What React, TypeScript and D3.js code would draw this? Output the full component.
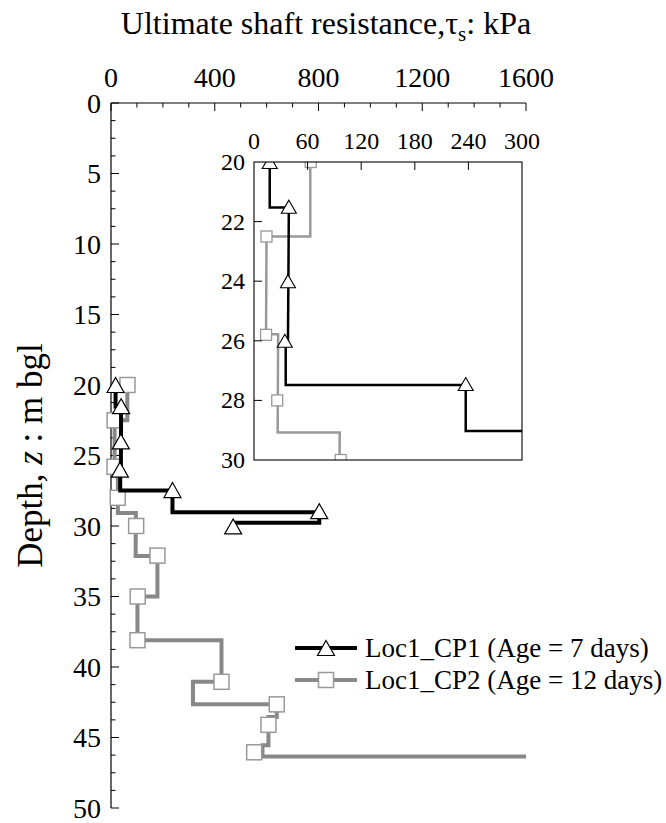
import React from 'react';
import * as d3 from 'd3';

// ---- data (kPa, depth m) ----
const xTicksMain = [0, 400, 800, 1200, 1600];
const yTicksMain = [0, 5, 10, 15, 20, 25, 30, 35, 40, 45, 50];
const xTicksInset = [0, 60, 120, 180, 240, 300];
const yTicksInset = [20, 22, 24, 26, 28, 30];

const cp1LineKpa = [17.6, 17.6, 39, 38.5, 38, 35.5, 35.5, 237, 237, 803, 803, 471];
const cp1LineDepth = [20, 21.53, 21.53, 24, 26, 26, 27.48, 27.48, 29.03, 29.03, 29.77, 29.77];
const cp1MarkKpa = [17.6, 39, 38, 34.5, 237, 803, 471];
const cp1MarkDepth = [20, 21.5, 24, 26, 27.45, 28.95, 30.03];

const cp2LineKpa = [63, 63, 14, 13.5, 27, 26.5, 96, 95, 179, 179, 102, 102, 426, 426, 316, 316, 639, 639, 607, 607, 584, 584, 1600];
const cp2LineDepth = [20, 22.5, 22.5, 25.78, 25.78, 29.08, 29.08, 32.13, 32.13, 35.0, 35.0, 38.1, 38.1, 41.05, 41.05, 42.64, 42.64, 43.55, 43.55, 45.55, 45.55, 46.35, 46.35];
const cp2MarkKpa = [63.5, 14, 13.5, 26, 97, 179, 103, 102, 426, 639, 607, 552];
const cp2MarkDepth = [20, 22.5, 25.8, 28, 30, 32.1, 35, 38.1, 41.05, 42.65, 44.1, 46.05];

const seriesNames = ['Loc1_CP1 (Age = 7 days)', 'Loc1_CP2 (Age = 12 days)'];

const FONT = "'Liberation Serif', 'Times New Roman', Times, serif";

function tri(cx: number, cy: number, w: number, h: number) {
  return `M${cx},${cy - h / 2}L${cx + w / 2},${cy + h / 2}L${cx - w / 2},${cy + h / 2}Z`;
}

export default function App() {
  const x = d3.scaleLinear().domain([0, 1600]).range([111, 526]);
  const y = d3.scaleLinear().domain([0, 50]).range([103, 808]);
  const xi = d3.scaleLinear().domain([0, 300]).range([254, 522]);
  const yi = d3.scaleLinear().domain([20, 30]).range([162, 460]);

  const cp1 = cp1LineKpa.map((v, i) => [v, cp1LineDepth[i]] as [number, number]);
  const cp2 = cp2LineKpa.map((v, i) => [v, cp2LineDepth[i]] as [number, number]);
  const m1 = cp1MarkKpa.map((v, i) => [v, cp1MarkDepth[i]] as [number, number]);
  const m2 = cp2MarkKpa.map((v, i) => [v, cp2MarkDepth[i]] as [number, number]);

  const lineMain = d3.line<[number, number]>().x(d => x(d[0])).y(d => y(d[1]));
  const lineIn = d3.line<[number, number]>().x(d => xi(d[0])).y(d => yi(d[1]));

  const minorX = d3.range(0, 1601, 100);
  const minorY = d3.range(0, 50.001, 1.25);
  const tf = { fontFamily: FONT };

  return (
    <svg width={666} height={823} style={{ position: 'absolute', left: 0, top: 0, background: '#fff', fontFamily: FONT }}>
      <defs>
        <clipPath id="insetClip">
          <rect x={xi(0)} y={yi(20)} width={xi(300) - xi(0)} height={yi(30) - yi(20)} />
        </clipPath>
      </defs>
      <rect x={0} y={0} width={666} height={823} fill="#fff" />

      {/* title */}
      <text x={326} y={34} fontSize={32} textAnchor="middle" fill="#000" style={tf}>
        Ultimate shaft resistance,τ<tspan fontSize={21} dy={7}>s</tspan><tspan dy={-7}>: kPa</tspan>
      </text>

      {/* y title */}
      <text transform={`translate(42,${(y(0) + y(50)) / 2}) rotate(-90)`} fontSize={35} textAnchor="middle" fill="#000" style={tf}>
        Depth, <tspan fontStyle="italic">z</tspan> : m bgl
      </text>

      {/* main axes */}
      <line x1={x(0)} x2={x(1600)} y1={y(0)} y2={y(0)} stroke="#000" strokeWidth={1.2} />
      <line x1={x(0)} x2={x(0)} y1={y(0)} y2={y(50)} stroke="#000" strokeWidth={1.2} />
      {minorX.map(v => (
        <line key={'mx' + v} x1={x(v)} x2={x(v)} y1={y(0)} y2={y(0) + (v % 400 === 0 ? 8 : 4.5)} stroke="#000" strokeWidth={1} />
      ))}
      {minorY.map(v => (
        <line key={'my' + v} x1={x(0)} x2={x(0) + (v % 5 === 0 ? 8 : 4.5)} y1={y(v)} y2={y(v)} stroke="#000" strokeWidth={1} />
      ))}
      {xTicksMain.map(v => (
        <text key={'xt' + v} x={x(v)} y={87} fontSize={28} textAnchor="middle" fill="#000" style={tf}>{v}</text>
      ))}
      {yTicksMain.map(v => (
        <text key={'yt' + v} x={101} y={y(v) + 9.5} fontSize={28} textAnchor="end" fill="#000" style={tf}>{v}</text>
      ))}

      {/* main series */}
      <path d={lineMain(cp2) || ''} fill="none" stroke="#888" strokeWidth={4} strokeLinejoin="miter" />
      {m2.map((d, i) => (
        <rect key={'s2' + i} x={x(d[0]) - 7.5} y={y(d[1]) - 7.5} width={15} height={15} fill="#fff" stroke="#999" strokeWidth={1.5} />
      ))}
      <path d={lineMain(cp1) || ''} fill="none" stroke="#000" strokeWidth={4} strokeLinejoin="miter" />
      {m1.map((d, i) => (
        <path key={'t1' + i} d={tri(x(d[0]), y(d[1]), 17, 15)} fill="#fff" stroke="#000" strokeWidth={1.2} />
      ))}

      {/* legend */}
      <line x1={295} x2={357} y1={648} y2={648} stroke="#000" strokeWidth={4} />
      <path d={tri(326, 648, 17, 15)} fill="#fff" stroke="#000" strokeWidth={1.2} />
      <text x={365} y={657} fontSize={27} fill="#000" style={tf}>{seriesNames[0]}</text>
      <line x1={295} x2={357} y1={680} y2={680} stroke="#888" strokeWidth={4} />
      <rect x={326 - 7.5} y={680 - 7.5} width={15} height={15} fill="#fff" stroke="#999" strokeWidth={1.5} />
      <text x={365} y={689} fontSize={27} fill="#000" style={tf}>{seriesNames[1]}</text>

      {/* inset */}
      <rect x={xi(0)} y={yi(20)} width={xi(300) - xi(0)} height={yi(30) - yi(20)} fill="#fff" stroke="none" />
      <g clipPath="url(#insetClip)">
        <path d={lineIn(cp2) || ''} fill="none" stroke="#999" strokeWidth={2.5} />
        {m2.map((d, i) => (
          <rect key={'is2' + i} x={xi(d[0]) - 5.5} y={yi(d[1]) - 5.5} width={11} height={11} fill="#fff" stroke="#999" strokeWidth={1.3} />
        ))}
        <path d={lineIn(cp1) || ''} fill="none" stroke="#000" strokeWidth={2.5} />
        {m1.map((d, i) => (
          <path key={'it1' + i} d={tri(xi(d[0]), yi(d[1]), 15, 13)} fill="#fff" stroke="#000" strokeWidth={1.1} />
        ))}
      </g>
      <rect x={xi(0)} y={yi(20)} width={xi(300) - xi(0)} height={yi(30) - yi(20)} fill="none" stroke="#000" strokeWidth={1.1} />
      {xTicksInset.slice(1, -1).map(v => (
        <line key={'ixt' + v} x1={xi(v)} x2={xi(v)} y1={yi(20)} y2={yi(20) + 8} stroke="#000" strokeWidth={1} />
      ))}
      {yTicksInset.slice(1, -1).map(v => (
        <line key={'iyt' + v} x1={xi(0)} x2={xi(0) + 8} y1={yi(v)} y2={yi(v)} stroke="#000" strokeWidth={1} />
      ))}
      {xTicksInset.map(v => (
        <text key={'ixl' + v} x={xi(v)} y={149} fontSize={24} textAnchor="middle" fill="#000" style={tf}>{v}</text>
      ))}
      {yTicksInset.map(v => (
        <text key={'iyl' + v} x={245} y={yi(v) + 8} fontSize={24} textAnchor="end" fill="#000" style={tf}>{v}</text>
      ))}
    </svg>
  );
}
